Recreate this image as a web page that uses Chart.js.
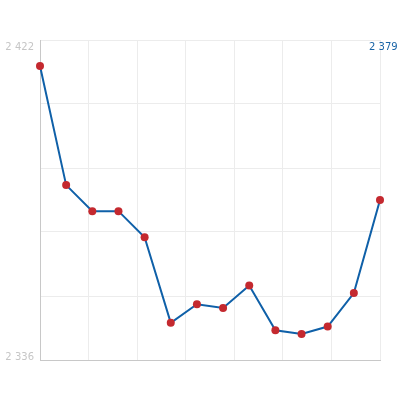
<!DOCTYPE html>
<html>
<head>
<meta charset="utf-8">
<script src="https://cdn.jsdelivr.net/npm/chart.js@4"></script>
<style>
  html, body { margin: 0; padding: 0; background: #fff; }
  canvas { display: block; }
</style>
</head>
<body>
<canvas id="chart" width="420" height="400"></canvas>
<script>
const periods = [1, 2, 3, 4, 5, 6, 7, 8, 9, 10, 11, 12, 13, 14];
const values = [2415, 2383, 2376, 2376, 2369, 2346, 2351, 2350, 2356, 2344, 2343, 2345, 2354, 2379];
const yMin = 2336;
const yMax = 2422;
const yLabels = ['2 336', '2 422'];
const lastLabel = '2 379';

const gridColor = '#ececec';
const axisColor = '#c8c8c8';

// evenly spaced grid: 7 columns, 5 rows
const evenTicks = (min, max, n) => {
  const out = [];
  for (let i = 0; i <= n; i++) out.push({ value: min + (max - min) * i / n });
  return out;
};

const labelPlugin = {
  id: 'edgeLabels',
  afterDraw(chart) {
    const { ctx, chartArea } = chart;
    ctx.save();
    ctx.font = '10px "DejaVu Sans"';
    ctx.fillStyle = '#c6c6c6';
    ctx.textAlign = 'right';
    ctx.textBaseline = 'middle';
    ctx.fillText(yLabels[1], chartArea.left - 6, chartArea.top + 7);
    ctx.fillText(yLabels[0], chartArea.left - 6, chartArea.bottom - 3);
    ctx.fillStyle = '#1a64a6';
    ctx.textAlign = 'left';
    ctx.fillText(lastLabel, chartArea.right - 11, chartArea.top + 7);
    ctx.restore();
  }
};

new Chart(document.getElementById('chart'), {
  type: 'line',
  data: {
    datasets: [{
      data: periods.map((p, i) => ({ x: i, y: values[i] })),
      borderColor: '#0f60a8',
      borderWidth: 2,
      tension: 0,
      pointRadius: 4,
      pointBackgroundColor: '#c4292f',
      pointBorderColor: '#c4292f',
      pointBorderWidth: 0,
      clip: false
    }]
  },
  options: {
    responsive: false,
    animation: false,
    layout: { padding: { left: 40, top: 40, right: 40, bottom: 40 } },
    plugins: { legend: { display: false }, tooltip: { enabled: false } },
    scales: {
      x: {
        type: 'linear',
        min: 0,
        max: periods.length - 1,
        afterBuildTicks: (axis) => { axis.ticks = evenTicks(0, periods.length - 1, 7); },
        ticks: { display: false },
        grid: { color: gridColor, drawTicks: false },
        border: { color: axisColor }
      },
      y: {
        min: yMin,
        max: yMax,
        afterBuildTicks: (axis) => { axis.ticks = evenTicks(yMin, yMax, 5); },
        ticks: { display: false },
        grid: { color: gridColor, drawTicks: false },
        border: { color: axisColor }
      }
    }
  },
  plugins: [labelPlugin]
});
</script>
</body>
</html>
